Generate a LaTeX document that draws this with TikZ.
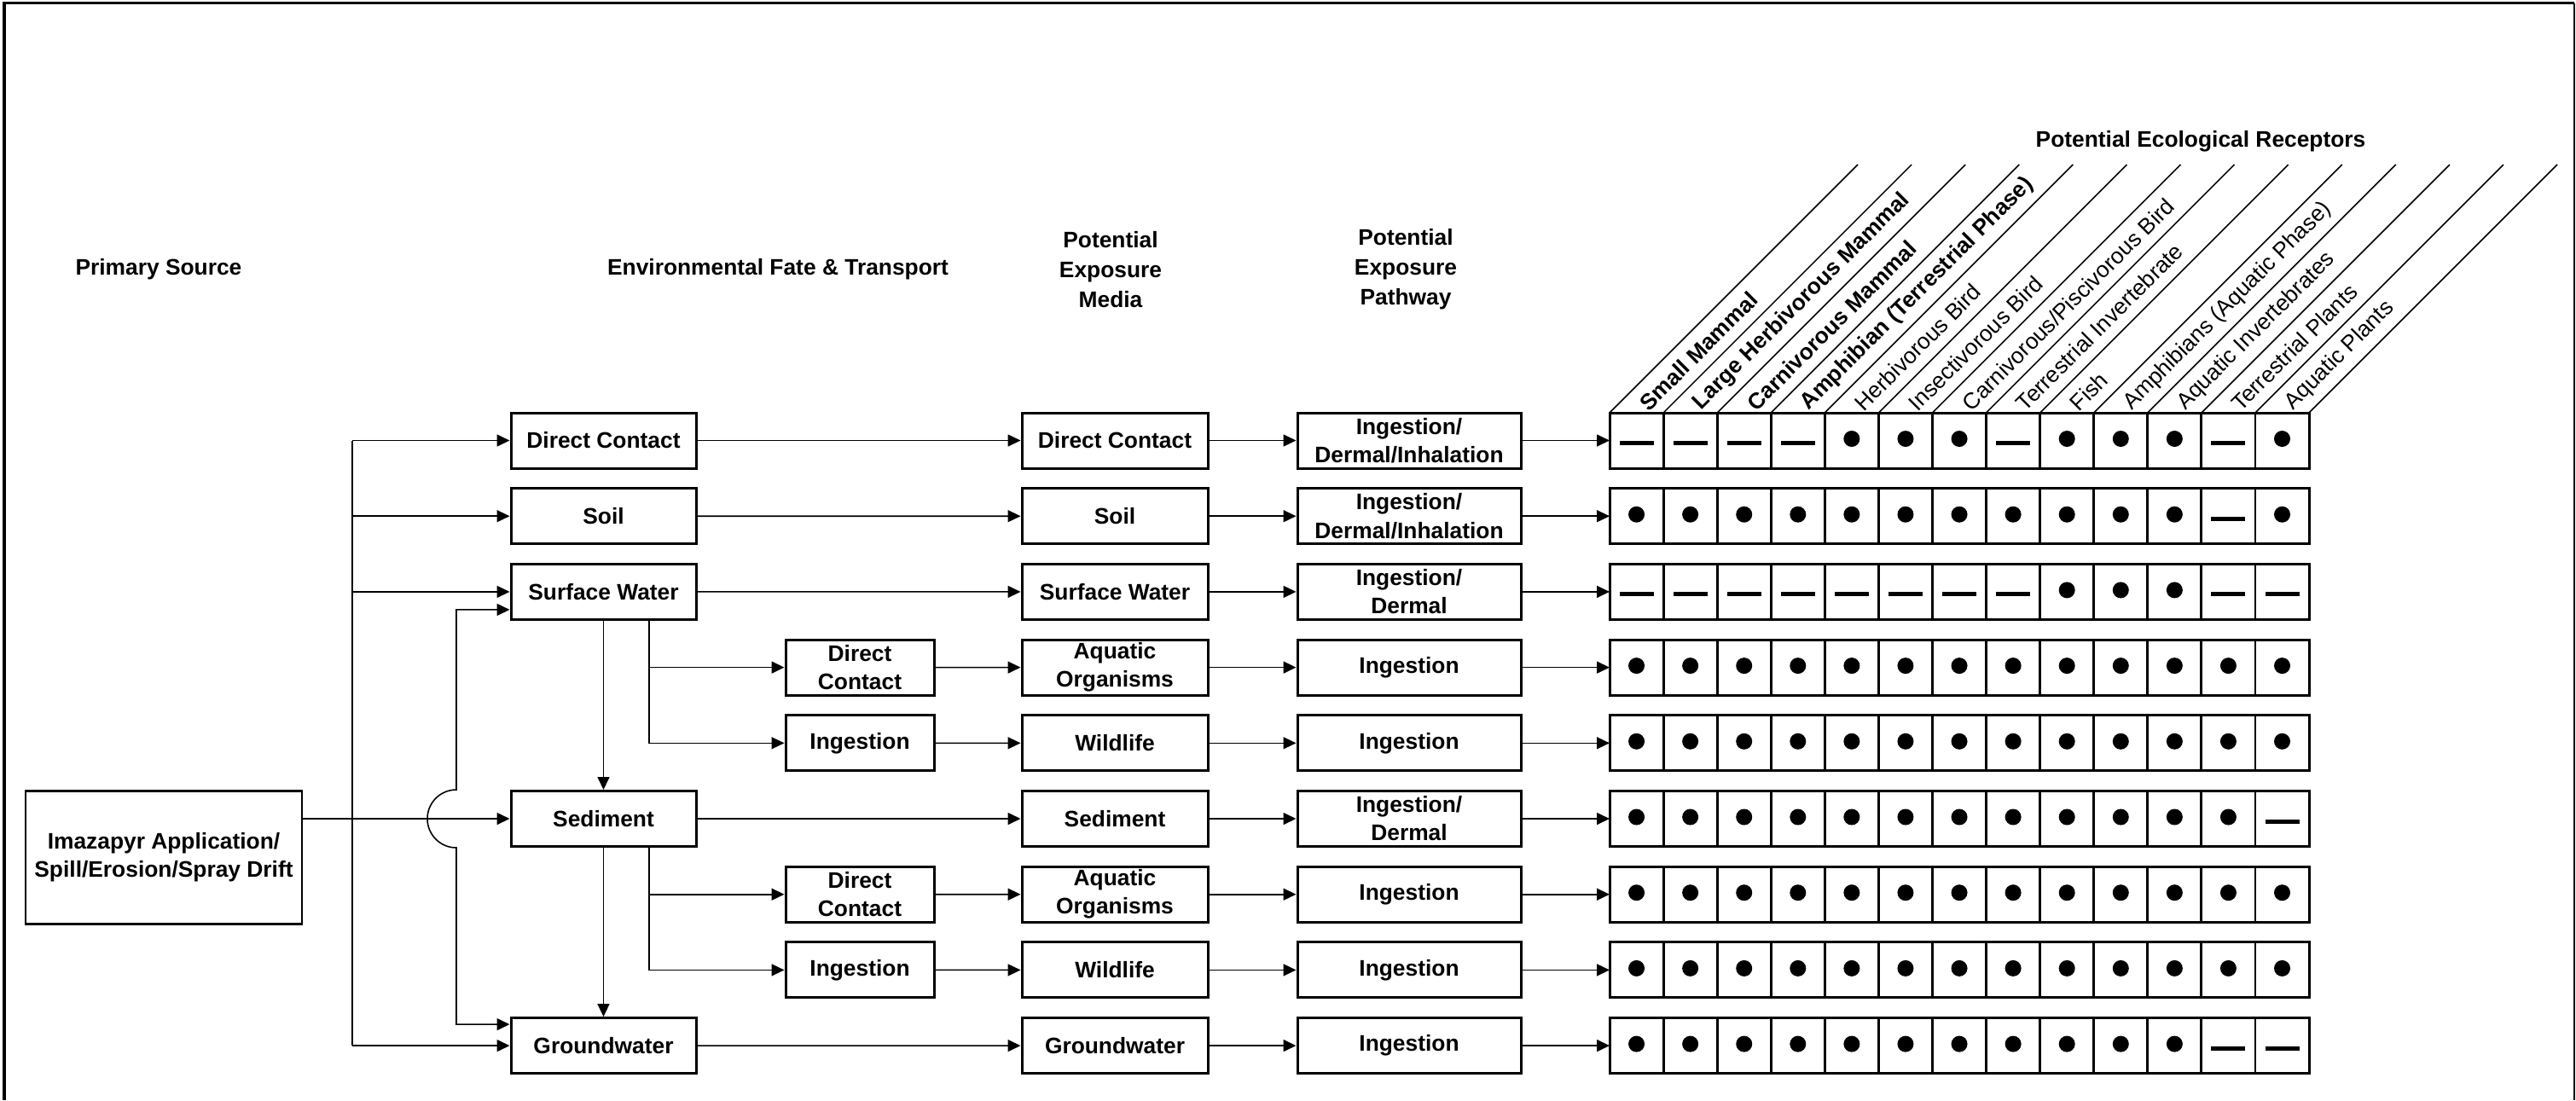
\documentclass[tikz,border=0pt]{standalone}
\usepackage{fontspec}
\setmainfont{Liberation Sans}
\usetikzlibrary{arrows.meta}

\begin{document}
\begin{tikzpicture}[
      >={Triangle[length=1.5mm,width=1.4mm]},
      font=\fontsize{7.5}{9.4}\selectfont\bfseries,
      box/.style={draw,line width=0.85pt,inner sep=0pt,minimum height=6.5mm,align=center},
      fate/.style={box,minimum width=21.7mm},
      route/.style={box,minimum width=17.4mm},
      media/.style={box,minimum width=21.8mm},
      pway/.style={box,minimum width=26.2mm},
      head/.style={align=center,font=\fontsize{7.5}{10}\selectfont\bfseries},
      link/.style={line width=0.45pt},
      cell/.style={line width=0.85pt}]
      \useasboundingbox (0,0) rectangle (30.2,-12.9);
      \draw[line width=0.95pt] (0.05,-12.9) -- (0.05,-0.035) -- (30.18,-0.035);
      \draw[link] (30.18,-0.035) -- (30.18,-12.9);

      % column headings
      \node[head] (hsrc) at (1.86,-3.16) {Primary Source};
      \node[head] (hfate) at (9.12,-3.16) {Environmental Fate \& Transport};
      \node[head] (hmed) at (13.02,-3.16) {Potential\\Exposure\\Media};
      \node[head] (hpath) at (16.48,-3.16) {Potential\\Exposure\\Pathway};
      \node[head] (hrec) at (25.8,-1.66) {Potential Ecological Receptors};

      % source, fate and transport
      \node[box,minimum width=32.4mm,minimum height=15.6mm] (src) at (1.92,-10.05)
        {Imazapyr Application/\\Spill/Erosion/Spray Drift};
      \node[fate] (dc) at (7.075,-5.165) {Direct Contact};
      \node[fate] (soil) at (7.075,-6.052) {Soil};
      \node[fate] (sw) at (7.075,-6.939) {Surface Water};
      \node[fate] (sed) at (7.075,-9.600) {Sediment};
      \node[fate] (gw) at (7.075,-12.261) {Groundwater};
      \node[route] (dcw) at (10.08,-7.826) {Direct\\Contact};
      \node[route] (ingw) at (10.08,-8.713) {Ingestion};
      \node[route] (dcs) at (10.08,-10.487) {Direct\\Contact};
      \node[route] (ings) at (10.08,-11.374) {Ingestion};

      % exposure media and pathways
      \foreach \t [count=\i from 0] in {Direct Contact, Soil, Surface Water,
          {Aquatic\\Organisms}, Wildlife, Sediment, {Aquatic\\Organisms}, Wildlife, Groundwater}
        \node[media] (m\i) at (13.07,-5.165-0.887*\i) {\t};
      \foreach \t [count=\i from 0] in {{Ingestion/\\Dermal/Inhalation}, {Ingestion/\\Dermal/Inhalation},
          {Ingestion/\\Dermal}, Ingestion, Ingestion, {Ingestion/\\Dermal}, Ingestion, Ingestion, Ingestion}
        \node[pway] (p\i) at (16.52,-5.165-0.887*\i) {\t};

      % receptor table
      \foreach \r in {0,...,8} {
        \pgfmathsetmacro\cy{-5.165-0.887*\r}
        \draw[cell] (18.87,\cy-0.325) rectangle (27.07,\cy+0.325);
        \foreach \c in {1,...,12}
          \draw[cell] (18.87+0.6308*\c,\cy-0.325) -- ++(0,0.65);
        \coordinate (g\r) at (18.87,\cy);
      }
      \foreach \c in {0,...,13}
        \draw[link] (18.87+0.6308*\c,-4.84) -- ++(2.91,2.91);
      \foreach \lab/\wt [count=\c from 0] in {Small Mammal/\bfseries, Large Herbivorous Mammal/\bfseries,
          Carnivorous Mammal/\bfseries, Amphibian (Terrestrial Phase)/\bfseries,
          Herbivorous Bird/\mdseries, Insectivorous Bird/\mdseries, {Carnivorous/Piscivorous Bird}/\mdseries,
          Terrestrial Invertebrate/\mdseries, Fish/\mdseries, Amphibians (Aquatic Phase)/\mdseries,
          Aquatic Invertebrates/\mdseries, Terrestrial Plants/\mdseries, Aquatic Plants/\mdseries}
        \node[rotate=45,anchor=west,inner sep=0pt] (r\c) at (18.87+0.6308*\c+0.39,-4.77) {\wt\lab};

      % 1 = present, 0 = not present
      \foreach \mk [count=\r from 0] in {
          {0,0,0,0,1,1,1,0,1,1,1,0,1},
          {1,1,1,1,1,1,1,1,1,1,1,0,1},
          {0,0,0,0,0,0,0,0,1,1,1,0,0},
          {1,1,1,1,1,1,1,1,1,1,1,1,1},
          {1,1,1,1,1,1,1,1,1,1,1,1,1},
          {1,1,1,1,1,1,1,1,1,1,1,1,0},
          {1,1,1,1,1,1,1,1,1,1,1,1,1},
          {1,1,1,1,1,1,1,1,1,1,1,1,1},
          {1,1,1,1,1,1,1,1,1,1,1,0,0}}
        \foreach \v [count=\c from 0] in \mk {
          \pgfmathsetmacro\cx{18.87+0.6308*(\c+0.5)}
          \pgfmathsetmacro\cy{-5.165-0.887*\r}
          \ifnum\v=1
            \fill (\cx,\cy+0.02) circle (0.095);
          \else
            \fill (\cx-0.2,\cy-0.055) rectangle (\cx+0.2,\cy-0.005);
          \fi
        }

      % connectors
      \coordinate (tr) at (4.13,0);
      \coordinate (bx) at (7.61,0);
      \draw[link] (tr |- dc) -- (tr |- gw);
      \begin{scope}[link,->]
        \draw (src.east |- sed) -- (sed);
        \draw (tr |- dc) -- (dc);
        \draw (tr |- soil) -- (soil);
        \draw (tr |- sw) -- (sw);
        \draw (tr |- gw) -- (gw);
        \draw[<->] ([yshift=1.3mm]sw.south west) -| (5.35,-9.26)
          arc[start angle=90,end angle=270,radius=0.34] |- ([yshift=-0.9mm]gw.north west);
        \draw (sw) -- (sed);
        \draw (sed) -- (gw);
        \draw (bx |- sw.south) |- (ingw);
        \draw (bx |- dcw) -- (dcw);
        \draw (bx |- sed.south) |- (ings);
        \draw (bx |- dcs) -- (dcs);
        \draw (dc) -- (m0);
        \draw (soil) -- (m1);
        \draw (sw) -- (m2);
        \draw (dcw) -- (m3);
        \draw (ingw) -- (m4);
        \draw (sed) -- (m5);
        \draw (dcs) -- (m6);
        \draw (ings) -- (m7);
        \draw (gw) -- (m8);
        \foreach \i in {0,...,8} {
          \draw (m\i) -- (p\i);
          \draw (p\i) -- (g\i);
        }
      \end{scope}
    \end{tikzpicture}
\end{document}
